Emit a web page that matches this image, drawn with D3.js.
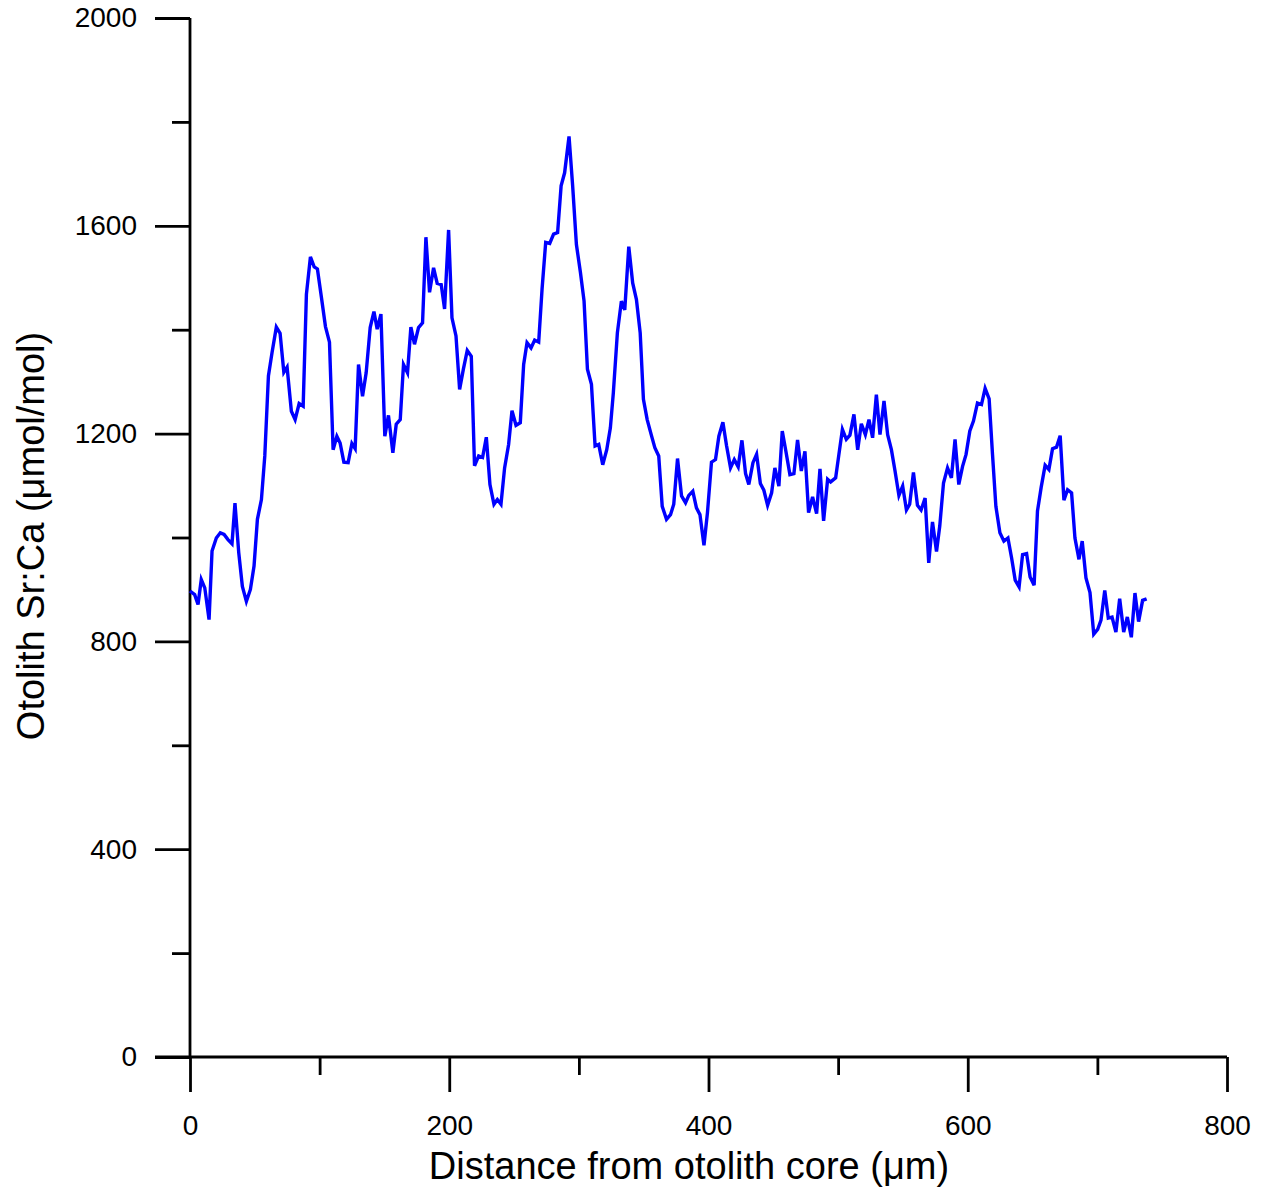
<!DOCTYPE html>
<html>
<head>
<meta charset="utf-8">
<script src="https://cdn.jsdelivr.net/npm/d3@7"></script>
<style>
  html, body { margin: 0; padding: 0; background: #fff; }
  svg { display: block; }
  text { font-family: "Liberation Sans", Arial, sans-serif; fill: #000; }
</style>
</head>
<body>
<svg id="chart" width="1266" height="1193"></svg>
<script>
// Distance from otolith core (µm)
const distance = [
  0, 3.6, 6.2, 8.7, 11.4, 14.7, 17.0, 20.3, 23.4, 26.3, 29.3, 32.4, 34.7, 37.6, 40.4, 43.5, 46.6, 49.4, 52.0, 55.1,
  57.7, 60.5, 63.3, 66.6, 69.5, 72.4, 74.9, 78.2, 81.1, 84.2, 87.3, 89.8, 92.9, 95.8, 98.3, 101.4, 104.5, 107.6, 110.4, 113.3,
  115.8, 118.7, 122.0, 124.9, 127.4, 130.0, 133.1, 135.9, 139.0, 141.9, 144.4, 147.3, 150.3, 153.1, 156.5, 159.1, 162.2, 164.7, 167.8, 170.4,
  173.2, 176.3, 179.4, 182.0, 184.8, 187.9, 190.7, 193.8, 196.4, 199.5, 202.1, 205.2, 208.0, 210.9, 213.9, 217.0, 219.5, 222.7, 225.7, 228.6,
  231.4, 234.5, 237.1, 239.9, 242.7, 245.8, 248.4, 251.5, 254.8, 257.4, 260.0, 263.1, 265.9, 269.0, 271.6, 274.4, 277.5, 280.5, 283.6, 286.3,
  289.0, 292.4, 295.2, 298.1, 301.2, 304.0, 306.6, 309.7, 312.5, 315.3, 318.4, 321.5, 324.3, 326.6, 329.7, 332.8, 335.4, 338.5, 341.5, 344.4,
  347.3, 349.8, 352.7, 355.8, 358.6, 361.6, 364.3, 367.6, 370.7, 373.2, 376.1, 379.2, 382.3, 384.8, 387.9, 390.7, 393.4, 396.5, 399.2, 402.3,
  405.4, 408.0, 411.1, 413.9, 417.0, 419.9, 422.9, 425.8, 428.6, 431.1, 434.3, 437.1, 440.0, 442.7, 445.6, 448.7, 451.2, 454.3, 456.9, 459.7,
  462.8, 465.9, 468.7, 471.6, 474.4, 477.2, 480.3, 483.4, 486.0, 488.8, 491.9, 494.2, 498.1, 500.6, 503.3, 506.3, 509.1, 512.2, 515.1, 517.9,
  521.0, 523.8, 526.6, 529.5, 532.3, 535.4, 538.2, 541.1, 543.9, 546.9, 549.8, 552.7, 555.2, 558.1, 561.2, 564.0, 567.1, 569.9, 572.8, 575.9,
  578.4, 581.3, 584.4, 587.4, 590.2, 593.1, 596.0, 598.7, 601.6, 604.4, 607.5, 610.6, 613.4, 616.5, 619.1, 621.7, 624.8, 627.9, 631.0, 633.8,
  636.6, 639.6, 642.3, 645.4, 648.1, 651.2, 653.8, 656.6, 659.7, 662.6, 665.4, 668.5, 671.3, 674.2, 677.0, 680.1, 682.7, 685.8, 688.3, 691.2,
  694.3, 697.2, 700.2, 702.8, 705.7, 708.4, 711.3, 714.3, 717.2, 720.3, 723.1, 726.2, 729.0, 731.8, 734.9, 738.0
];
// Otolith Sr:Ca (µmol/mol)
const srca = [
  897, 890, 871, 919, 903, 842, 974, 999, 1009, 1006, 996, 988, 1066, 971, 906, 877, 900, 945, 1035, 1073,
  1157, 1311, 1356, 1405, 1393, 1318, 1328, 1243, 1227, 1258, 1253, 1468, 1540, 1521, 1517, 1462, 1406, 1376, 1169, 1195,
  1182, 1145, 1144, 1181, 1171, 1333, 1272, 1317, 1404, 1435, 1401, 1430, 1195, 1235, 1163, 1218, 1227, 1333, 1317, 1405,
  1372, 1404, 1413, 1578, 1472, 1519, 1489, 1487, 1440, 1592, 1423, 1388, 1285, 1324, 1360, 1349, 1138, 1157, 1154, 1193,
  1102, 1064, 1073, 1064, 1134, 1179, 1244, 1216, 1221, 1333, 1375, 1365, 1380, 1376, 1478, 1568, 1566, 1584, 1587, 1677,
  1702, 1772, 1677, 1564, 1510, 1455, 1324, 1295, 1176, 1179, 1140, 1169, 1211, 1279, 1394, 1455, 1438, 1560, 1490, 1458,
  1394, 1266, 1227, 1198, 1173, 1157, 1060, 1035, 1044, 1064, 1152, 1080, 1067, 1081, 1089, 1057, 1044, 985, 1048, 1145,
  1150, 1195, 1222, 1177, 1134, 1150, 1136, 1187, 1123, 1102, 1144, 1160, 1104, 1091, 1062, 1086, 1134, 1099, 1205, 1166,
  1121, 1123, 1188, 1128, 1166, 1048, 1078, 1046, 1132, 1032, 1112, 1107, 1115, 1160, 1208, 1189, 1197, 1237, 1169, 1219,
  1198, 1227, 1192, 1275, 1198, 1263, 1198, 1169, 1128, 1081, 1099, 1053, 1064, 1125, 1062, 1053, 1076, 951, 1030, 973,
  1022, 1105, 1134, 1115, 1189, 1102, 1137, 1160, 1205, 1224, 1259, 1256, 1287, 1267, 1160, 1060, 1009, 993, 999, 961,
  918, 905, 967, 969, 924, 908, 1051, 1096, 1139, 1131, 1171, 1174, 1196, 1072, 1092, 1086, 999, 958, 993, 922,
  894, 814, 823, 841, 898, 845, 847, 818, 882, 818, 847, 808, 893, 838, 879, 882
];
const yMajorTicks = [0, 400, 800, 1200, 1600, 2000];
const yMinorTicks = [200, 600, 1000, 1400, 1800];
const xMajorTicks = [0, 200, 400, 600, 800];
const xMinorTicks = [100, 300, 500, 700];
const xTitle = "Distance from otolith core (\u03bcm)";
const yTitle = "Otolith Sr:Ca (\u03bcmol/mol)";

const data = distance.map((d, i) => ({ x: d, y: srca[i] }));

const svg = d3.select("#chart");
const x = d3.scaleLinear().domain([0, 800]).range([190, 1227]);
const y = d3.scaleLinear().domain([0, 2000]).range([1057, 18]);
const axisW = 2.8;

// Y axis
const gy = svg.append("g").attr("transform", `translate(${x(0)},0)`);
gy.call(d3.axisLeft(y).tickValues(yMajorTicks).tickSize(35).tickSizeOuter(0).tickPadding(18).tickFormat(d3.format("d")));
gy.select(".domain").remove();
gy.selectAll(".tick line").attr("stroke", "#000").attr("stroke-width", axisW);
gy.selectAll(".tick text").attr("font-size", 28).attr("font-family", "Liberation Sans, Arial, sans-serif");
const gy2 = svg.append("g").attr("transform", `translate(${x(0)},0)`);
gy2.call(d3.axisLeft(y).tickValues(yMinorTicks).tickSize(18).tickSizeOuter(0).tickFormat(""));
gy2.select(".domain").remove();
gy2.selectAll(".tick line").attr("stroke", "#000").attr("stroke-width", axisW);

// X axis
const gx = svg.append("g").attr("transform", `translate(0,${y(0)})`);
gx.call(d3.axisBottom(x).tickValues(xMajorTicks).tickSize(35).tickSizeOuter(0).tickPadding(23).tickFormat(d3.format("d")));
gx.select(".domain").remove();
gx.selectAll(".tick line").attr("stroke", "#000").attr("stroke-width", axisW);
gx.selectAll(".tick text").attr("font-size", 28).attr("font-family", "Liberation Sans, Arial, sans-serif");
const gx2 = svg.append("g").attr("transform", `translate(0,${y(0)})`);
gx2.call(d3.axisBottom(x).tickValues(xMinorTicks).tickSize(18).tickSizeOuter(0).tickFormat(""));
gx2.select(".domain").remove();
gx2.selectAll(".tick line").attr("stroke", "#000").attr("stroke-width", axisW);

// axis lines
svg.append("line")
  .attr("x1", x(0)).attr("x2", x(0)).attr("y1", y(2000)).attr("y2", y(0))
  .attr("stroke", "#000").attr("stroke-width", axisW);
svg.append("line")
  .attr("x1", x(0) - 35).attr("x2", x(800)).attr("y1", y(0)).attr("y2", y(0))
  .attr("stroke", "#000").attr("stroke-width", axisW);

// data line
const line = d3.line().x(d => x(d.x)).y(d => y(d.y));
svg.append("path")
  .datum(data)
  .attr("d", line)
  .attr("fill", "none")
  .attr("stroke", "#0000ff")
  .attr("stroke-width", 3.4)
  .attr("stroke-linejoin", "miter");

// titles
svg.append("text")
  .attr("x", 689)
  .attr("y", 1179)
  .attr("text-anchor", "middle")
  .attr("font-size", 38)
  .text(xTitle);
svg.append("text")
  .attr("transform", `translate(44,536) rotate(-90)`)
  .attr("text-anchor", "middle")
  .attr("font-size", 38)
  .text(yTitle);
</script>
</body>
</html>
